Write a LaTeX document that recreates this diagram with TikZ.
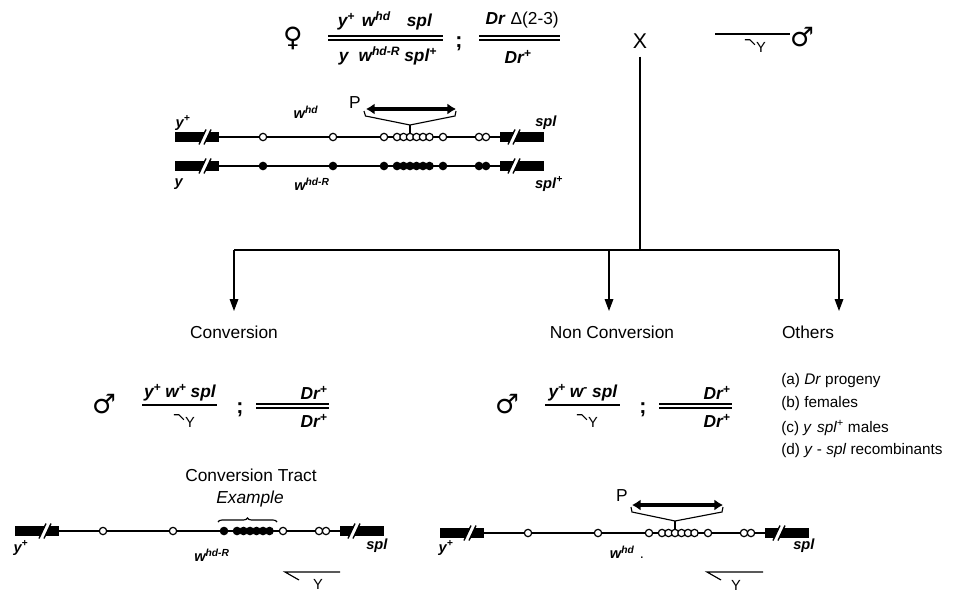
\documentclass[tikz,border=0pt]{standalone}
\usepackage{fontspec}
\setmainfont{Liberation Sans}
\newfontfamily\symfont{DejaVu Sans}
\usetikzlibrary{arrows.meta,decorations.pathreplacing}

\newcommand\gene[1]{\textbf{\textit{#1}}}
\newcommand\gsup[1]{\textsuperscript{#1}}

\tikzset{
  chromosome/.pic={
    \fill (0,-4.8) rectangle (44,4.8);
    \fill (325,-4.8) rectangle (369,4.8);
    \draw[line width=0.9pt] (44,0) -- (325,0);
    \foreach \c in {25,334} {
      \fill[white] (\c+0.2,4.8) -- (\c+4.8,-4.8) -- (\c+9.8,-4.8) -- (\c+5.2,4.8) -- cycle;
      \draw[line width=1pt] (\c-1,7.5) -- (\c+6,-7.5) (\c+4,7.5) -- (\c+11,-7.5);
    }
  }
}

\begin{document}
\begin{tikzpicture}[x=0.75pt, y=-0.75pt,
  sex/.style={inner sep=0pt, font=\symfont\fontsize{20}{22}\selectfont},
  gtxt/.style={inner sep=0pt, font=\fontsize{13}{15}\selectfont},
  glbl/.style={inner sep=0pt, font=\fontsize{11}{13}\selectfont},
  ytxt/.style={inner sep=0pt, font=\fontsize{11}{13}\selectfont},
  head/.style={inner sep=0pt, font=\fontsize{13}{15}\selectfont},
  semi/.style={inner sep=0pt, font=\fontsize{16}{18}\selectfont\bfseries},
  crs/.style={inner sep=0pt, font=\fontsize{16}{18}\selectfont},
  item/.style={inner sep=0pt, anchor=west, font=\fontsize{11.5}{13}\selectfont},
  open/.style={circle, draw, fill=white, line width=0.9pt, inner sep=0pt, minimum size=5.5pt},
  full/.style={open, fill=black},
  bar/.style={line width=0.85pt},
  tree/.style={line width=0.9pt},
  dbl/.style={line width=3pt, {Latex[length=6.5pt,width=8.5pt]}-{Latex[length=6.5pt,width=8.5pt]}},
  >={Triangle[length=9pt,width=6.5pt]}
]
\useasboundingbox (0,0) rectangle (970,592);

% parental cross
\node[sex] (fem) at (293,38) {♀};
\node[gtxt] (fnum) at (385,21) {\gene{y\gsup{+}}\hspace{5pt}\gene{w\gsup{hd}}\hspace{12pt}\gene{spl}};
\draw[bar] (328,36) -- (443,36) (328,40) -- (443,40);
\node[gtxt] (fden) at (388,56) {\gene{y}\hspace{7pt}\gene{w\gsup{hd-R}}\hspace{3pt}\gene{spl\gsup{+}}};
\node[semi] (semi1) at (459,44) {;};
\node[gtxt, anchor=east] (drnum) at (559,20) {\gene{Dr} Δ(2-3)};
\draw[bar] (479,36) -- (560,36) (479,40) -- (560,40);
\node[gtxt] (drden) at (518,57) {\gene{Dr\gsup{+}}};
\node[crs] (cross) at (640,41) {X};
\draw[bar] (715,34) -- (790,34);
\node[ytxt] (ytop) at (761,47) {Y};
\draw[bar] ([shift={(-11,-2)}]ytop.north west) -- ([shift={(-6,-2)}]ytop.north west) -- ([shift={(-1,3)}]ytop.north west);
\node[sex] (male) at (802,37) {♂};

% parental chromosomes
\pic at (175,137) {chromosome};
\pic at (175,166) {chromosome};
\foreach \x [count=\i] in {88,158,209,222,228.5,235,241.5,248,254.5,268,304,311} {
  \node[open] (pu\i) at (175+\x,137) {};
  \node[full] (pl\i) at (175+\x,166) {};
}
\node[glbl] (lyp) at (183,123) {\gene{y\gsup{+}}};
\node[glbl] (lwhd) at (306,112) {\gene{w\gsup{hd}}};
\node[glbl] (lspl) at (546,123) {\gene{spl}};
\node[glbl] (ly) at (179,184) {\gene{y}};
\node[glbl] (lwr) at (312,184) {\gene{w\gsup{hd-R}}};
\node[glbl] (lsplp) at (549,184) {\gene{spl\gsup{+}}};
\node[head] (p1) at (355,103) {P};
\coordinate (p1a) at (366,109);
\coordinate (p1b) at (456,109);
\draw[dbl] (p1a) -- (p1b);
\coordinate (p1v) at (410,125);
\draw[bar] (364,111) -- (365.5,116) -- (p1v) -- (455,116) -- (456,111);
\draw[bar] (p1v) -- (pu6.north);

% progeny classes
\coordinate (hub) at (640,250);
\coordinate (bl) at (234,250);
\coordinate (bm) at (609,250);
\coordinate (br) at (839,250);
\coordinate (tl) at (234,311);
\coordinate (tm) at (609,311);
\coordinate (tr) at (839,311);
\draw[tree, shorten <=6pt] (cross.south) -- (hub);
\draw[tree] (bl) -- (br);
\draw[tree,->] (bl) -- (tl);
\draw[tree,->] (bm) -- (tm);
\draw[tree,->] (br) -- (tr);
\node[head] (conv) at (234,332) {Conversion};
\node[head] (nconv) at (612,332) {Non Conversion};
\node[head] (oth) at (808,332) {Others};

% others
\node[item] (oa) at (781,381) {(a) \textit{Dr} progeny};
\node[item] (ob) at (781,404) {(b) females};
\node[item] (oc) at (781,428) {(c) \textit{y}\hspace{4pt}\textit{spl\gsup{+}} males};
\node[item] (od) at (781,451) {(d) \textit{y} - \textit{spl} recombinants};

% conversion
\node[sex] (mc) at (104,404) {♂};
\node[gtxt] (cnum) at (180,393) {\gene{y\gsup{+}}\hspace{3pt}\gene{w\gsup{+}}\hspace{3pt}\gene{spl}};
\draw[bar] (142,405) -- (217,405);
\node[ytxt] (cy) at (190,422) {Y};
\draw[bar] ([shift={(-11,-2)}]cy.north west) -- ([shift={(-6,-2)}]cy.north west) -- ([shift={(-1,3)}]cy.north west);
\node[semi] (semi2) at (240,410) {;};
\node[gtxt, anchor=east] (cdn) at (328,393) {\gene{Dr\gsup{+}}};
\draw[bar] (256,404) -- (329,404) (256,408) -- (329,408);
\node[gtxt, anchor=east] (cdd) at (328,421) {\gene{Dr\gsup{+}}};

\pic at (15,531) {chromosome};
\foreach \x/\s [count=\i] in {88/open,158/open,209/full,222/full,228.5/full,235/full,241.5/full,248/full,254.5/full,268/open,304/open,311/open}
  \node[\s] (cv\i) at (15+\x,531) {};
\node[glbl] (cyp) at (21,548) {\gene{y\gsup{+}}};
\node[glbl] (cwr) at (212,555) {\gene{w\gsup{hd-R}}};
\node[glbl] (cspl) at (377,546) {\gene{spl}};
\node[head] (tract) at (251,475) {Conversion Tract};
\node[head, font=\fontsize{13}{15}\selectfont\itshape] (ex) at (250,499) {Example};
\coordinate (bra) at (218,522);
\coordinate (brb) at (277,522);
\draw[bar, decorate, decoration={brace, amplitude=3pt}] (bra) -- (brb);
\node[ytxt] (cyb) at (318,584) {Y};
\draw[bar] (340,572) -- (285,572) -- (299,580);

% non conversion
\node[sex] (mn) at (507,404) {♂};
\node[gtxt] (nnum) at (583,393) {\gene{y\gsup{+}}\hspace{3pt}\gene{w\gsup{-}}\hspace{3pt}\gene{spl}};
\draw[bar] (545,405) -- (620,405);
\node[ytxt] (ny) at (593,422) {Y};
\draw[bar] ([shift={(-11,-2)}]ny.north west) -- ([shift={(-6,-2)}]ny.north west) -- ([shift={(-1,3)}]ny.north west);
\node[semi] (semi3) at (643,410) {;};
\node[gtxt, anchor=east] (ndn) at (731,393) {\gene{Dr\gsup{+}}};
\draw[bar] (659,404) -- (732,404) (659,408) -- (732,408);
\node[gtxt, anchor=east] (ndd) at (731,421) {\gene{Dr\gsup{+}}};

\pic at (440,533) {chromosome};
\foreach \x [count=\i] in {88,158,209,222,228.5,235,241.5,248,254.5,268,304,311}
  \node[open] (nc\i) at (440+\x,533) {};
\node[glbl] (nyp) at (446,548) {\gene{y\gsup{+}}};
\node[glbl] (nwhd) at (627,552) {\gene{w\gsup{hd}}\hspace{4pt}.};
\node[glbl] (nspl) at (804,546) {\gene{spl}};
\node[head] (p2) at (622,496) {P};
\coordinate (p2a) at (632,505);
\coordinate (p2b) at (723,505);
\draw[dbl] (p2a) -- (p2b);
\coordinate (p2v) at (675,521);
\draw[bar] (631,507) -- (632,512) -- (p2v) -- (722,512) -- (723,507);
\draw[bar] (p2v) -- (nc6.north);
\node[ytxt] (nyb) at (736,585) {Y};
\draw[bar] (763,572) -- (707,572) -- (721,580);
\end{tikzpicture}
\end{document}
